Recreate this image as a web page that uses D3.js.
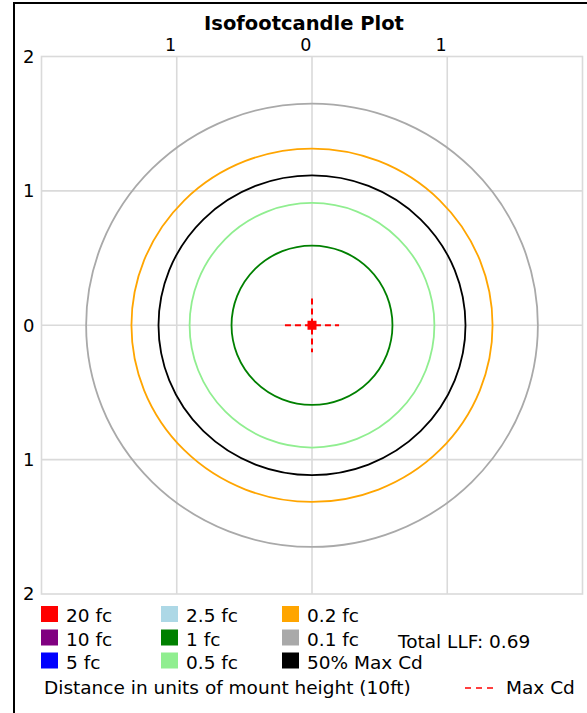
<!DOCTYPE html>
<html>
<head>
<meta charset="utf-8">
<script src="https://cdn.jsdelivr.net/npm/d3@7"></script>
<style>
  html, body { margin: 0; padding: 0; background: #fff; }
  svg { display: block; font-family: "DejaVu Sans", Verdana, sans-serif; }
</style>
</head>
<body>
<svg id="chart" width="587" height="713"></svg>
<script>
// Axis ticks (distance in mount heights; labels show absolute distance)
const xTicks = [-1, 0, 1];
const yTicks = [2, 1, 0, -1, -2];
const gridX = [-1, 0, 1];
const gridY = [1, 0, -1];

// Isofootcandle contours: half-width and half-height in mount heights
const contourLabels  = ["0.1 fc", "0.2 fc", "50% Max Cd", "0.5 fc", "1 fc"];
const contourRadiusX = [1.67, 1.335, 1.135, 0.905, 0.595];
const contourRadiusY = [1.65, 1.315, 1.115, 0.91, 0.593];

// Location of maximum candela
const maxCdX = [0];
const maxCdY = [0];
const maxCdArm = 0.2;

// Legend entries (column-major, three rows)
const legendLabels = ["20 fc", "10 fc", "5 fc", "2.5 fc", "1 fc", "0.5 fc", "0.2 fc", "0.1 fc", "50% Max Cd"];
const legendColors = ["#ff0000", "#800080", "#0000ff", "#add8e6", "#008000", "#90ee90", "#ffa500", "#a9a9a9", "#000000"];
const totalLLF = 0.69;

const colorOf = d3.scaleOrdinal().domain(legendLabels).range(legendColors);

const svg = d3.select("#chart");

// Outer frame (top and left edges)
svg.append("path")
  .attr("d", "M14,713 L14,3 L587,3")
  .attr("fill", "none")
  .attr("stroke", "#000")
  .attr("stroke-width", 2);

// Title
svg.append("text")
  .attr("x", 304).attr("y", 30)
  .attr("text-anchor", "middle")
  .attr("font-weight", "bold")
  .attr("font-size", 19.5)
  .text("Isofootcandle Plot");

const x = d3.scaleLinear().domain([-2, 2]).range([41.5, 582.5]);
const y = d3.scaleLinear().domain([2, -2]).range([56.5, 594]);

const plot = svg.append("g");

// Grid and plot border
plot.append("rect")
  .attr("x", x(-2)).attr("y", y(2))
  .attr("width", x(2) - x(-2)).attr("height", y(-2) - y(2))
  .attr("fill", "none").attr("stroke", "#dadada").attr("stroke-width", 1.6);

plot.selectAll("line.gx").data(gridX).join("line")
  .attr("class", "gx")
  .attr("x1", d => x(d)).attr("x2", d => x(d))
  .attr("y1", y(2)).attr("y2", y(-2))
  .attr("stroke", "#dadada").attr("stroke-width", 1.6);

plot.selectAll("line.gy").data(gridY).join("line")
  .attr("class", "gy")
  .attr("y1", d => y(d)).attr("y2", d => y(d))
  .attr("x1", x(-2)).attr("x2", x(2))
  .attr("stroke", "#dadada").attr("stroke-width", 1.6);

// Axes
const fmt = d => String(Math.abs(d));

const topAxis = svg.append("g")
  .attr("transform", `translate(0,${y(2)})`)
  .call(d3.axisTop(x).tickValues(xTicks).tickSize(0).tickPadding(5.5).tickFormat(fmt));
topAxis.select(".domain").remove();
topAxis.selectAll("text")
  .attr("text-anchor", "end")
  .attr("dx", -1)
  .attr("font-size", 17.5)
  .attr("font-family", "DejaVu Sans, Verdana, sans-serif")
  .attr("fill", "#000");

const leftAxis = svg.append("g")
  .attr("transform", `translate(${x(-2)},0)`)
  .call(d3.axisLeft(y).tickValues(yTicks).tickSize(0).tickPadding(7).tickFormat(fmt));
leftAxis.select(".domain").remove();
leftAxis.selectAll("text")
  .attr("font-size", 18)
  .attr("font-family", "DejaVu Sans, Verdana, sans-serif")
  .attr("fill", "#000");

// Contours
const contours = contourLabels.map((label, i) => ({
  label, rx: contourRadiusX[i], ry: contourRadiusY[i]
}));

plot.selectAll("ellipse.contour").data(contours).join("ellipse")
  .attr("class", "contour")
  .attr("cx", x(0)).attr("cy", y(0))
  .attr("rx", d => x(d.rx) - x(0))
  .attr("ry", d => y(-d.ry) - y(0))
  .attr("fill", "none")
  .attr("stroke", d => colorOf(d.label))
  .attr("stroke-width", 1.8);

// Maximum candela marker
const maxPts = maxCdX.map((v, i) => ({ x: v, y: maxCdY[i] }));
const mc = plot.selectAll("g.maxcd").data(maxPts).join("g").attr("class", "maxcd");
mc.append("line")
  .attr("x1", d => x(d.x - maxCdArm)).attr("x2", d => x(d.x + maxCdArm))
  .attr("y1", d => y(d.y)).attr("y2", d => y(d.y))
  .attr("stroke", "#ff0000").attr("stroke-width", 2).attr("stroke-dasharray", "6,4");
mc.append("line")
  .attr("x1", d => x(d.x)).attr("x2", d => x(d.x))
  .attr("y1", d => y(d.y + maxCdArm)).attr("y2", d => y(d.y - maxCdArm))
  .attr("stroke", "#ff0000").attr("stroke-width", 2).attr("stroke-dasharray", "6,4");
mc.append("rect")
  .attr("x", d => x(d.x) - 4.5).attr("y", d => y(d.y) - 4.5)
  .attr("width", 9).attr("height", 9)
  .attr("fill", "#ff0000");

// Legend
const colX = [41, 161, 282];
const rowBase = [622, 645.5, 668.5];
const legend = svg.append("g").attr("font-size", 18.5);
const items = legend.selectAll("g.item").data(legendLabels).join("g")
  .attr("class", "item")
  .attr("transform", (d, i) => `translate(${colX[Math.floor(i / 3)]},${rowBase[i % 3]})`);
items.append("rect")
  .attr("x", 0).attr("y", -16).attr("width", 17).attr("height", 16)
  .attr("fill", d => colorOf(d));
items.append("text")
  .attr("x", 25).attr("y", 0)
  .text(d => d);

legend.append("text")
  .attr("x", 398).attr("y", 648)
  .text(`Total LLF: ${totalLLF.toFixed(2)}`);

legend.append("text")
  .attr("x", 44).attr("y", 694)
  .text("Distance in units of mount height (10ft)");

legend.append("line")
  .attr("x1", 465).attr("x2", 496).attr("y1", 688).attr("y2", 688)
  .attr("stroke", "#ff0000").attr("stroke-width", 1.5).attr("stroke-dasharray", "6,5");
legend.append("text")
  .attr("x", 506).attr("y", 694)
  .text("Max Cd");
</script>
</body>
</html>
